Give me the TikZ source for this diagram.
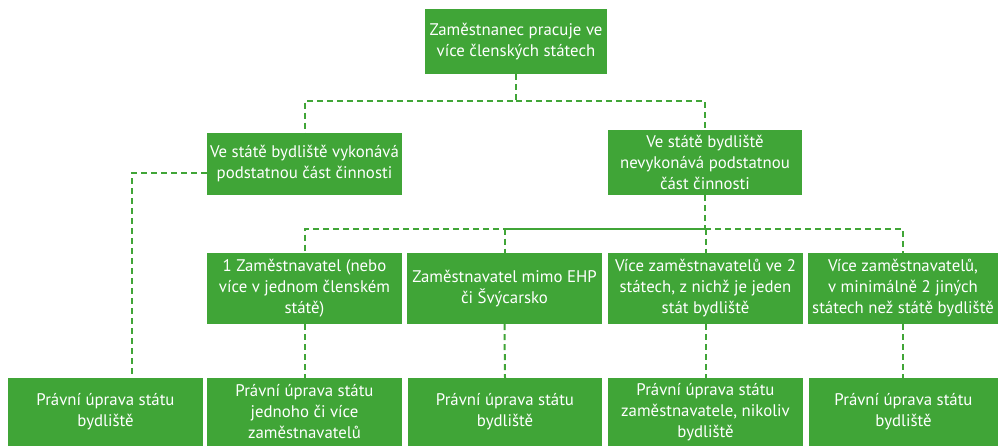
\documentclass[tikz,border=0pt]{standalone}
\usepackage{fontspec}
\setmainfont{PT Sans}
\definecolor{boxgreen}{RGB}{64,165,55}
\newcommand\GreenBox[6]{%
    \node[box,minimum width=#4,minimum height=#5] (#1) at (#2,#3) {#6};
}

\begin{document}
\begin{tikzpicture}[x=1pt,y=-1pt,
    box/.style={fill=boxgreen,text=white,align=center,inner sep=0pt,
        font=\fontsize{16.8}{21}\selectfont},
    link/.style={draw=boxgreen,line width=2pt,dash pattern=on 6pt off 4pt}]
    \useasboundingbox (0,0) rectangle (999,446);
    % top
    \GreenBox{top}{516}{41.5}{182pt}{65pt}{Zaměstnanec pracuje ve\\více členských státech}
    % second row
    \GreenBox{res}{304.5}{164}{195pt}{62pt}{Ve státě bydliště vykonává\\podstatnou část činnosti}
    \GreenBox{nores}{705}{162.5}{194pt}{65pt}{Ve státě bydliště\\nevykonává podstatnou\\část činnosti}
    % third row
    \GreenBox{one}{304.5}{288.5}{195pt}{71pt}{1 Zaměstnavatel (nebo\\více v jednom členském\\státě)}
    \GreenBox{ehp}{504.5}{288.5}{195pt}{71pt}{Zaměstnavatel mimo EHP\\či Švýcarsko}
    \GreenBox{two}{705.5}{288.5}{195pt}{71pt}{Více zaměstnavatelů ve 2\\státech, z nichž je jeden\\stát bydliště}
    \GreenBox{other}{903}{288.5}{190pt}{71pt}{Více zaměstnavatelů,\\v minimálně 2 jiných\\státech než státě bydliště}
    % bottom row
    \GreenBox{lawA}{105.5}{412}{195pt}{68pt}{Právní úprava státu\\bydliště}
    \GreenBox{lawB}{304.5}{412}{195pt}{68pt}{Právní úprava státu\\jednoho či více\\zaměstnavatelů}
    \GreenBox{lawC}{505}{412}{194pt}{68pt}{Právní úprava státu\\bydliště}
    \GreenBox{lawD}{705.5}{412}{195pt}{68pt}{Právní úprava státu\\zaměstnavatele, nikoliv\\bydliště}
    \GreenBox{lawE}{903.5}{412}{189pt}{68pt}{Právní úprava státu\\bydliště}

    \begin{scope}[link] % A
        \draw (top.south) -- ++(0,27) coordinate(j1) -| (res.north);
        \draw (j1) -| (nores.north);
        \draw ([yshift=-9pt]res.west) -| ([xshift=26.5pt]lawA.north);
    \end{scope}
    \begin{scope}[link] % B
        \draw (nores.south) -- ++(0,34) coordinate(j2) -| (one.north);
        \draw (j2) -| (ehp.north);
        \draw (j2) -| (two.north);
        \draw (j2) -| (other.north);
        \draw (one.south) -- (lawB.north);
        \draw (ehp.south) -- (lawC.north);
        \draw (two.south) -- (lawD.north);
        \draw (other.south) -- (lawE.north -| other.south);
    \end{scope}
\end{tikzpicture}
\end{document}
